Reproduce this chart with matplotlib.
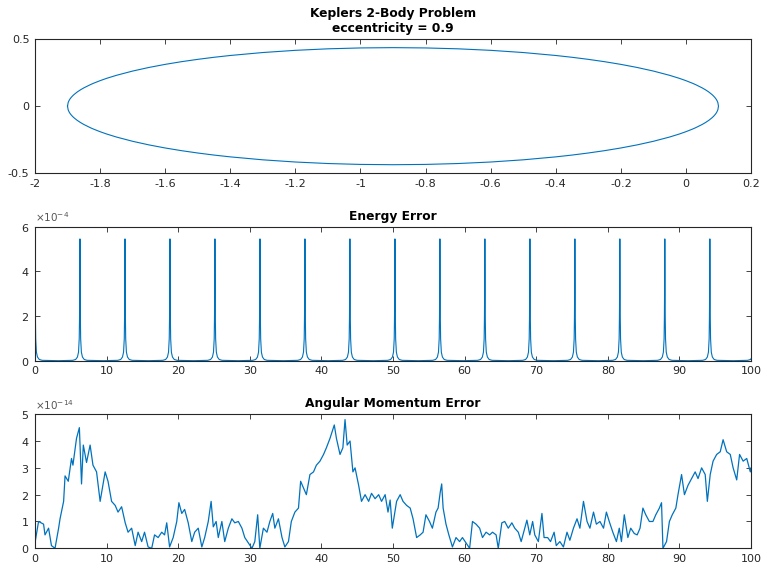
# Kepler 2-body problem: orbit, energy error, angular momentum error
import matplotlib.pyplot as plt
import matplotlib.ticker as mticker
import numpy as np

plt.rcParams['font.family'] = ['DejaVu Sans']
plt.rcParams['axes.unicode_minus'] = False

# Orbit (upper half; lower half is the mirror)
orbit_x = [-1.9, -1.898, -1.895, -1.893, -1.89, -1.885, -1.88, -1.87, -1.86, -1.85, -1.83, -1.82,
           -1.8, -1.78, -1.75, -1.7, -1.65, -1.6, -1.55, -1.5, -1.45, -1.4, -1.3, -1.2, -1.1,
           -1.0, -0.9, -0.8, -0.7, -0.6, -0.5, -0.4, -0.35, -0.3, -0.25, -0.2, -0.15, -0.1,
           -0.05, -0.02, 0.0, 0.02, 0.03, 0.05, 0.06, 0.07, 0.08, 0.085, 0.09, 0.093, 0.095,
           0.098, 0.1]
orbit_y = [0.0, 0.0276, 0.0435, 0.0515, 0.0615, 0.0752, 0.0867, 0.106, 0.122, 0.1361, 0.1602, 0.1708,
           0.19, 0.2071, 0.2296, 0.2615, 0.2883, 0.3113, 0.3313, 0.3487, 0.3641, 0.3775, 0.3995, 0.4158, 0.4271,
           0.4337, 0.4359, 0.4337, 0.4271, 0.4158, 0.3995, 0.3775, 0.3641, 0.3487, 0.3313, 0.3113, 0.2883, 0.2615,
           0.2296, 0.2071, 0.19, 0.1708, 0.1602, 0.1361, 0.122, 0.106, 0.0867, 0.0752, 0.0615, 0.0515, 0.0435,
           0.0276, 0.0]

# Energy error: spikes once per orbit
peak_t = [0.0, 6.28, 12.57, 18.85, 25.13, 31.42, 37.70, 43.98, 50.27,
          56.55, 62.83, 69.12, 75.40, 81.68, 87.96, 94.25, 100.53]
peak_e = 5.45e-4
spike_dt = [-3.0, -1.0, -0.6, -0.35, -0.2, -0.1, -0.06, -0.03, 0.0,
            0.03, 0.06, 0.1, 0.2, 0.35, 0.6, 1.0, 3.0]
spike_rel = [0.0, 0.003, 0.01, 0.03, 0.07, 0.18, 0.35, 0.6, 1.0,
             0.6, 0.35, 0.18, 0.07, 0.03, 0.01, 0.003, 0.0]

# Angular momentum error (x 1e-14)
L_t = [0.0, 0.5, 1.2, 1.4, 1.9, 2.3, 2.8, 3.3, 3.5, 4.0, 4.2, 4.65, 5.1, 5.3, 5.8, 6.2, 6.5, 6.75,
       7.2, 7.7, 8.1, 8.6, 9.1, 9.8, 10.2, 10.7, 11.2, 11.6, 12.1, 12.6, 13.0, 13.5, 14.0, 14.4,
       14.9, 15.3, 15.8, 16.3, 16.7, 17.2, 17.7, 18.1, 18.4, 18.8, 19.3, 19.8, 20.1, 20.5, 20.9,
       21.4, 21.9, 22.3, 22.8, 23.3, 23.7, 24.2, 24.6, 24.9, 25.3, 25.6, 26.1, 26.5, 27.0, 27.5,
       27.9, 28.4, 28.9, 29.3, 29.8, 30.3, 30.7, 31.1, 31.4, 31.9, 32.4, 32.8, 33.2, 33.5, 34.0,
       34.5, 34.9, 35.4, 35.8, 36.3, 36.8, 37.1, 37.5, 37.9, 38.4, 38.9, 39.3, 39.8, 40.3, 40.7,
       41.2, 41.8, 42.1, 42.6, 43.0, 43.3, 43.6, 44.0, 44.4, 44.7, 45.2, 45.6, 46.1, 46.6, 47.0,
       47.5, 48.0, 48.4, 48.9, 49.3, 49.6, 49.9, 50.5, 51.0, 51.4, 51.9, 52.4, 52.8, 53.3, 53.8,
       54.2, 54.6, 55.1, 55.5, 56.0, 56.3, 56.6, 56.8, 57.0, 57.4, 57.8, 58.3, 58.8, 59.3, 59.7,
       60.2, 60.7, 61.1, 61.6, 62.1, 62.5, 63.0, 63.5, 63.9, 64.4, 64.7, 65.2, 65.6, 66.1, 66.6,
       67.0, 67.5, 67.9, 68.4, 68.7, 69.1, 69.5, 69.8, 70.3, 70.8, 71.1, 71.6, 72.0, 72.5, 72.8,
       73.3, 73.8, 74.3, 74.7, 75.2, 75.7, 76.1, 76.6, 77.1, 77.5, 78.0, 78.4, 78.9, 79.4, 79.8,
       80.2, 80.7, 81.2, 81.6, 81.9, 82.3, 82.8, 83.2, 83.7, 84.1, 84.5, 84.9, 85.3, 85.8, 86.3,
       86.7, 87.2, 87.5, 87.7, 88.2, 88.6, 89.0, 89.5, 89.8, 90.3, 90.7, 91.2, 91.7, 92.2, 92.6,
       93.1, 93.6, 93.9, 94.3, 94.7, 95.2, 95.7, 96.1, 96.6, 97.1, 97.5, 98.0, 98.4, 98.9, 99.4,
       99.9, 100.0]
L_v = [0.2, 1.0, 0.9, 0.5, 0.75, 0.1, 0.0, 0.75, 1.1, 1.75, 2.7, 2.5, 3.35, 3.1, 4.1, 4.5, 2.4, 3.85,
       3.2, 3.85, 3.1, 2.85, 1.75, 2.85, 2.5, 1.75, 1.6, 1.35, 1.55, 0.95, 0.6, 0.75, 0.1, 0.6,
       0.25, 0.6, 0.05, 0.0, 0.5, 0.4, 0.6, 0.5, 0.95, 0.05, 0.4, 1.0, 1.7, 1.3, 1.45,
       0.95, 0.25, 0.6, 0.75, 0.05, 0.4, 1.0, 1.75, 0.8, 1.0, 0.4, 1.0, 0.25, 0.75, 1.1,
       0.95, 1.0, 0.75, 0.4, 0.2, 0.0, 0.25, 1.25, 0.0, 0.75, 0.6, 1.0, 1.3, 0.75, 1.1,
       0.4, 0.05, 0.25, 1.0, 1.35, 1.5, 2.5, 2.25, 2.0, 2.75, 2.85, 3.1, 3.25, 3.5, 3.75,
       4.1, 4.6, 4.1, 3.5, 3.75, 4.8, 3.85, 4.0, 2.85, 3.0, 2.35, 1.75, 2.0, 1.75, 2.05,
       1.85, 2.0, 1.75, 2.0, 1.35, 1.8, 0.75, 1.75, 2.0, 1.75, 1.6, 1.5, 1.1, 0.4, 0.5,
       0.6, 1.25, 1.0, 0.75, 1.35, 1.5, 2.1, 2.4, 1.5, 0.9, 0.5, 0.05, 0.4, 0.25, 0.4,
       0.2, 0.0, 1.0, 0.9, 0.75, 0.4, 0.6, 0.5, 0.6, 0.5, 0.0, 0.95, 1.0, 0.75, 0.95,
       0.75, 0.6, 0.25, 0.75, 1.05, 0.5, 1.0, 0.5, 0.25, 1.3, 0.4, 0.4, 0.25, 0.6, 0.1,
       0.25, 0.05, 0.6, 0.3, 0.75, 1.1, 0.75, 1.75, 1.0, 0.75, 1.35, 0.9, 1.0, 0.75, 1.35,
       1.0, 0.6, 0.25, 0.75, 0.25, 1.25, 0.4, 0.75, 0.55, 0.5, 0.75, 1.5, 1.25, 1.0, 1.0,
       1.25, 1.5, 1.7, 0.0, 0.25, 1.0, 1.25, 1.5, 2.0, 2.75, 2.0, 2.35, 2.6, 2.85, 2.6,
       3.0, 2.75, 1.75, 2.75, 3.25, 3.5, 3.6, 4.05, 3.6, 3.5, 3.0, 2.55, 3.5, 3.25, 3.35,
       2.85, 3.0]

blue = '#0072BD'
dark = '#262626'


def style_axes(ax):
    for s in ax.spines.values():
        s.set_color(dark)
        s.set_linewidth(0.8)
    ax.tick_params(direction='in', top=True, right=True, length=3.5, width=0.6,
                   colors=dark, labelsize=8, pad=4)


def short(v, p):
    return '%g' % (round(v, 1) + 0.0)


fig = plt.figure(figsize=(7.62, 5.69), dpi=100)

# orbit
ax1 = fig.add_axes([0.0459, 0.6954, 0.9397, 0.2360])
ox = np.array(orbit_x + orbit_x[::-1])
oy = np.array(orbit_y + [-v for v in orbit_y[::-1]])
ax1.plot(ox, oy, color=blue, linewidth=0.8)
ax1.set_xlim(-2, 0.2)
ax1.set_ylim(-0.5, 0.5)
ax1.set_xticks(np.arange(-2, 0.21, 0.2))
ax1.set_yticks([-0.5, 0, 0.5])
ax1.xaxis.set_major_formatter(mticker.FuncFormatter(short))
ax1.yaxis.set_major_formatter(mticker.FuncFormatter(short))
ax1.set_title('Keplers 2-Body Problem\neccentricity = 0.9', fontsize=8.8, fontweight='bold',
              color='black', pad=5, linespacing=1.25)
style_axes(ax1)

# energy error
ax2 = fig.add_axes([0.0459, 0.3661, 0.9397, 0.2356])
et, ev = [], []
for tp in peak_t:
    for d, r in zip(spike_dt, spike_rel):
        if tp + d >= 0:
            et.append(tp + d)
            ev.append(peak_e * r)
ax2.plot(et, ev, color=blue, linewidth=0.8)
ax2.set_xlim(0, 100)
ax2.set_ylim(0, 6e-4)
ax2.set_xticks(np.arange(0, 101, 10))
ax2.set_yticks([0, 2e-4, 4e-4, 6e-4])
ax2.set_title('Energy Error', fontsize=8.8, fontweight='bold', color='black', pad=5)
style_axes(ax2)

# angular momentum error
ax3 = fig.add_axes([0.0459, 0.0364, 0.9397, 0.2356])
ax3.plot(L_t, np.array(L_v) * 1e-14, color=blue, linewidth=0.9)
ax3.set_xlim(0, 100)
ax3.set_ylim(0, 5e-14)
ax3.set_xticks(np.arange(0, 101, 10))
ax3.set_yticks(np.arange(0, 5.1, 1) * 1e-14)
ax3.set_title('Angular Momentum Error', fontsize=8.8, fontweight='bold', color='black', pad=5)
style_axes(ax3)

for ax in (ax2, ax3):
    fmt = mticker.ScalarFormatter(useMathText=True)
    fmt.set_powerlimits((-3, 3))
    ax.yaxis.set_major_formatter(fmt)
    ax.yaxis.get_offset_text().set_fontsize(7.5)
    ax.yaxis.get_offset_text().set_color('#555555')

fig.savefig('out.png', dpi=100)
